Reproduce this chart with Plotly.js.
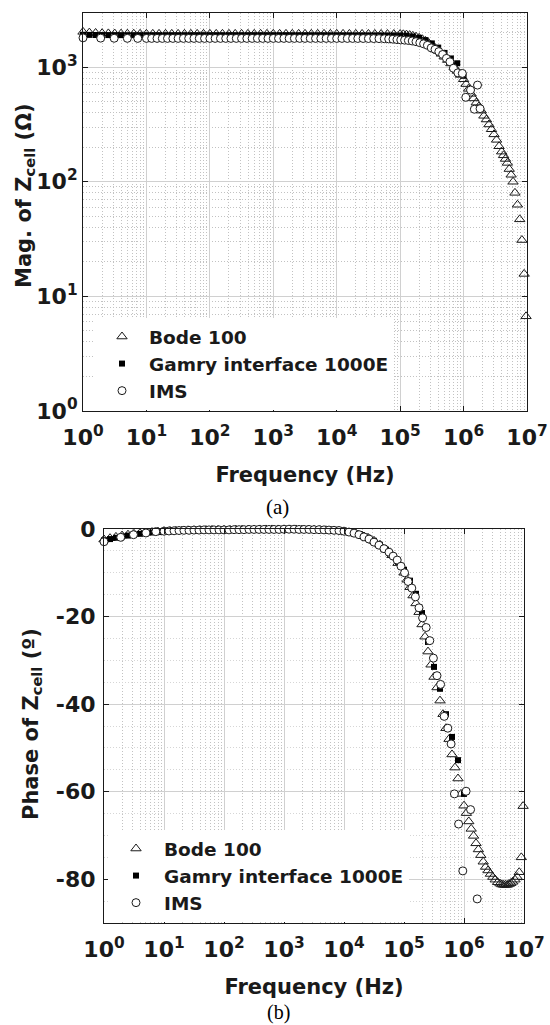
<!DOCTYPE html>
<html>
<head>
<meta charset="utf-8">
<script src="https://cdn.plot.ly/plotly-3.0.1.min.js"></script>
<style>
  html, body { margin: 0; padding: 0; background: #fff; }
  #chart { width: 550px; height: 1025px; }
</style>
</head>
<body>
<div id="chart"></div>
<script>
// ---- Bode 100 (triangles) ----
const bodeFreq = [
  1, 1.26, 1.58, 2, 2.51, 3.16, 3.98, 5.01, 6.31, 7.94,
  10, 12.6, 15.8, 20, 25.1, 31.6, 39.8, 50.1, 63.1, 79.4,
  100, 126, 158, 200, 251, 316, 398, 501, 631, 794,
  1000, 1259, 1585, 1995, 2512, 3162, 3981, 5012, 6310, 7943,
  10000, 12590, 15850, 19950, 25120, 31620, 39810, 50120, 63100, 79430,
  100000, 112200, 125900, 141300, 158500, 177800, 199500, 223900, 251200, 281800,
  316200, 354800, 398100, 446700, 501200, 562300, 631000, 707900, 794300, 891300,
  1000000, 1096000, 1202000, 1318000, 1445000, 1585000, 1738000, 1905000, 2089000, 2291000,
  2512000, 2754000, 3020000, 3311000, 3631000, 3981000, 4266000, 4571000, 4898000, 5248000,
  5623000, 6026000, 6457000, 7079000, 7674000, 8318000, 9016000, 9661000
];
const bodeMag = [
  2030, 2000, 1985, 1975, 1968, 1962, 1958, 1955, 1953, 1952,
  1950, 1950, 1950, 1950, 1950, 1950, 1950, 1950, 1950, 1950,
  1950, 1950, 1950, 1950, 1950, 1950, 1950, 1950, 1950, 1950,
  1950, 1950, 1950, 1950, 1950, 1950, 1950, 1950, 1950, 1950,
  1950, 1949, 1948, 1948, 1947, 1946, 1945, 1944, 1943, 1942,
  1941, 1932, 1919, 1901, 1875, 1841, 1799, 1750, 1690, 1622,
  1549, 1469, 1387, 1306, 1230, 1153, 1076, 1000, 927, 855,
  783, 711, 646, 585, 533, 490, 452, 417, 376, 349,
  316, 287, 259, 232, 204, 183, 170, 158, 146, 129,
  115, 100, 80, 63, 47, 31, 15.7, 6.7
];
const bodePhase = [
  -2.4, -2.1, -1.8, -1.5, -1.3, -1.1, -0.95, -0.8, -0.7, -0.6,
  -0.5, -0.45, -0.4, -0.35, -0.3, -0.3, -0.25, -0.25, -0.2, -0.2,
  -0.2, -0.2, -0.15, -0.15, -0.15, -0.15, -0.1, -0.1, -0.1, -0.1,
  -0.1, -0.1, -0.1, -0.15, -0.2, -0.2, -0.25, -0.3, -0.4, -0.5,
  -0.6, -0.8, -1.1, -1.5, -2.0, -2.7, -3.6, -4.7, -6.0, -7.8,
  -10.0, -11.6, -13.3, -15.2, -17.0, -19.0, -21.8, -24.6, -28.0, -31.0,
  -33.8, -36.2, -39.2, -42.3, -45.5, -48.0, -51.5, -54.5, -57.0, -60.5,
  -63.2, -64.9, -66.8, -68.5, -70.1, -71.8, -73.2, -74.5, -76.0, -77.2,
  -78.0, -78.8, -79.5, -80.1, -80.7, -81.0, -81.2, -81.3, -81.3, -81.3,
  -81.1, -80.9, -80.6, -80.1, -79.5, -78.4, -75.0, -63.3
];

// ---- Gamry interface 1000E (filled squares) ----
const gamryFreq = [
  1, 1.26, 1.58, 2, 2.51, 3.16, 3.98, 5.01, 6.31, 7.94,
  10, 12.6, 15.8, 20, 25.1, 31.6, 39.8, 50.1, 63.1, 79.4,
  100, 126, 158, 200, 251, 316, 398, 501, 631, 794,
  1000, 1259, 1585, 1995, 2512, 3162, 3981, 5012, 6310, 7943,
  10000, 12590, 15850, 19950, 25120, 31620, 39810, 50120, 63100, 79430,
  100000, 125900, 158500, 199500, 251200, 316200, 398100, 501200, 631000, 794300,
  1000000
];
const gamryMag = [
  1915, 1910, 1906, 1904, 1903, 1902, 1901, 1900, 1900, 1900,
  1900, 1900, 1900, 1900, 1900, 1900, 1900, 1900, 1900, 1900,
  1900, 1900, 1900, 1900, 1900, 1900, 1900, 1900, 1900, 1900,
  1900, 1900, 1900, 1899, 1899, 1899, 1898, 1898, 1898, 1897,
  1897, 1896, 1896, 1895, 1895, 1894, 1893, 1892, 1891, 1890,
  1888, 1880, 1850, 1800, 1720, 1610, 1480, 1330, 1190, 1080,
  840
];
const gamryPhase = [
  -2.6, -2.3, -2.0, -1.7, -1.5, -1.3, -1.1, -0.95, -0.8, -0.7,
  -0.6, -0.5, -0.45, -0.4, -0.35, -0.3, -0.3, -0.25, -0.25, -0.2,
  -0.2, -0.2, -0.15, -0.15, -0.15, -0.1, -0.1, -0.1, -0.1, -0.1,
  -0.1, -0.1, -0.1, -0.15, -0.15, -0.2, -0.25, -0.3, -0.35, -0.4,
  -0.5, -0.7, -1.0, -1.4, -2.0, -2.7, -3.6, -4.7, -6.0, -7.5,
  -9.3, -11.8, -14.8, -19.2, -25.8, -31.5, -36.5, -42.3, -47.5, -52.8,
  -60.5
];

// ---- IMS (open circles) ----
const imsFreq = [
  1, 1.9, 3.1, 5, 7.3,
  10, 12.1, 14.7, 17.8, 21.5, 26.1, 31.6, 38.3, 46.4, 56.2, 68.1, 82.5,
  100, 121, 147, 178, 215, 261, 316, 383, 464, 562, 681, 825,
  1000, 1210, 1470, 1780, 2150, 2610, 3160, 3830, 4640, 5620, 6810, 8250,
  10000, 12100, 14700, 17800, 21500, 26100, 31600, 38300, 46400, 56200, 66000, 77000,
  89100, 102300, 117500, 134900, 154900, 177800, 204200, 234400, 269200, 309000,
  354800, 407400, 467700, 537000, 609500, 691800, 812800, 955000, 1084000, 1288000,
  1479000, 1660000, 1820000
];
const imsMag = [
  1800, 1790, 1785, 1782, 1780,
  1780, 1780, 1780, 1780, 1780, 1780, 1780, 1780, 1780, 1780, 1780, 1780,
  1780, 1780, 1780, 1780, 1780, 1780, 1780, 1780, 1780, 1780, 1780, 1780,
  1780, 1780, 1780, 1780, 1780, 1780, 1780, 1780, 1780, 1780, 1780, 1780,
  1780, 1780, 1779, 1779, 1778, 1777, 1776, 1774, 1772, 1768, 1762, 1752,
  1738, 1726, 1718, 1706, 1690, 1667, 1633, 1596, 1549, 1472,
  1429, 1365, 1288, 1191, 1112, 977, 891, 881, 545, 631,
  429, 697, 434
];
const imsPhase = [
  -2.9, -1.9, -1.3, -0.9, -0.6,
  -0.5, -0.45, -0.4, -0.35, -0.3, -0.3, -0.25, -0.25, -0.2, -0.2, -0.2, -0.2,
  -0.2, -0.2, -0.15, -0.15, -0.15, -0.1, -0.1, -0.1, -0.1, -0.1, -0.1, -0.1,
  -0.05, -0.05, -0.05, -0.1, -0.1, -0.1, -0.15, -0.15, -0.2, -0.25, -0.3, -0.35,
  -0.5, -0.7, -0.95, -1.3, -1.8, -2.3, -3.0, -3.7, -4.5, -5.3, -6.2, -7.1,
  -8.5, -10.0, -12.0, -13.5, -15.5, -18.0, -20.3, -22.5, -25.5, -29.5,
  -33.5, -35.5, -42.8, -45.5, -49.1, -60.5, -67.4, -78.1, -59.9, -64.1,
  null, -84.5, null
];

// ---- axis labels ----
const freqTickVals = [1, 10, 100, 1000, 10000, 100000, 1000000, 10000000];
const freqTickText = ['10<sup>0</sup>', '10<sup>1</sup>', '10<sup>2</sup>', '10<sup>3</sup>',
                      '10<sup>4</sup>', '10<sup>5</sup>', '10<sup>6</sup>', '10<sup>7</sup>'];
const magTickVals = [1, 10, 100, 1000];
const magTickText = ['10<sup>0</sup>', '10<sup>1</sup>', '10<sup>2</sup>', '10<sup>3</sup>'];
const phaseTickVals = [-80, -60, -40, -20, 0];
const phaseTickText = ['-80', '-60', '-40', '-20', '0'];
const seriesNames = ['Bode 100', 'Gamry interface 1000E', 'IMS'];

// minor grid positions (2..9 within each decade)
function minorLogTicks(maxDecade) {
  const out = [];
  for (let d = 0; d <= maxDecade; d++) {
    for (let m = 2; m <= 9; m++) out.push(m * Math.pow(10, d));
  }
  return out;
}

const W = 550, H = 1025;
const px = v => v / W;          // horizontal pixel -> paper
const py = v => 1 - v / H;      // vertical pixel (from top) -> paper

const ink = '#1a1a1a';
const tickFont = { family: 'DejaVu Sans', size: 22, weight: 'bold', color: ink };
const titleFont = { family: 'DejaVu Sans', size: 21, weight: 'bold', color: ink };
const legendFont = { family: 'DejaVu Sans', size: 18.5, weight: 'bold', color: ink };

const markerStyles = [
  { symbol: 'triangle-up-open', size: 9, color: ink, line: { width: 1, color: ink } },
  { symbol: 'square', size: 6, color: '#000', line: { width: 0 } },
  { symbol: 'circle', size: 8, color: '#fff', line: { width: 1, color: ink } }
];

function series(i, x, y, xa, ya, legend) {
  return {
    type: 'scatter', mode: 'markers', name: seriesNames[i],
    x: x, y: y, xaxis: xa, yaxis: ya, legend: legend,
    marker: markerStyles[i], cliponaxis: false, hoverinfo: 'x+y'
  };
}

const traces = [
  series(0, bodeFreq, bodeMag, 'x', 'y', 'legend'),
  series(1, gamryFreq, gamryMag, 'x', 'y', 'legend'),
  series(2, imsFreq, imsMag, 'x', 'y', 'legend'),
  series(0, bodeFreq, bodePhase, 'x2', 'y2', 'legend2'),
  series(1, gamryFreq, gamryPhase, 'x2', 'y2', 'legend2'),
  series(2, imsFreq, imsPhase, 'x2', 'y2', 'legend2')
];

const gridMajor = '#d0d0d0';
const gridMinor = '#c2c2c2';

function freqAxis(domain, anchor) {
  return {
    type: 'log', domain: domain, anchor: anchor, range: [0, 7],
    tickmode: 'array', tickvals: freqTickVals, ticktext: freqTickText,
    tickfont: tickFont, ticks: 'inside', ticklen: 5, tickcolor: ink,
    ticklabelstandoff: 7,
    showline: true, linecolor: ink, linewidth: 1, mirror: 'ticks',
    showgrid: true, gridcolor: gridMajor, gridwidth: 1,
    minor: { tickmode: 'array', tickvals: minorLogTicks(6), showgrid: true,
             gridcolor: gridMinor, griddash: '1px,2px', gridwidth: 1, ticks: '' },
    zeroline: false,
    title: { text: 'Frequency (Hz)', font: titleFont, standoff: 17 }
  };
}

const layout = {
  width: W, height: H,
  margin: { l: 0, r: 0, t: 0, b: 0 },
  paper_bgcolor: '#fff', plot_bgcolor: '#fff',
  showlegend: true,
  xaxis: freqAxis([px(83), px(527)], 'y'),
  yaxis: {
    type: 'log', domain: [py(411), py(13)], anchor: 'x', range: [0, 3.472],
    tickmode: 'array', tickvals: magTickVals, ticktext: magTickText,
    tickfont: tickFont, ticks: 'inside', ticklen: 5, tickcolor: ink,
    showline: true, linecolor: ink, linewidth: 1, mirror: 'ticks',
    showgrid: true, gridcolor: gridMajor, gridwidth: 1,
    minor: { tickmode: 'array', tickvals: minorLogTicks(3), showgrid: true,
             gridcolor: gridMinor, griddash: '1px,2px', gridwidth: 1, ticks: '' },
    zeroline: false
  },
  xaxis2: freqAxis([px(104), px(524)], 'y2'),
  yaxis2: {
    domain: [py(923), py(529)], anchor: 'x2', range: [-90, 0],
    tickmode: 'array', tickvals: phaseTickVals, ticktext: phaseTickText,
    tickfont: tickFont, ticks: 'inside', ticklen: 5, tickcolor: ink,
    ticklabelstandoff: 3,
    showline: true, linecolor: ink, linewidth: 1, mirror: 'ticks',
    showgrid: true, gridcolor: gridMajor, gridwidth: 1,
    minor: { tickmode: 'linear', tick0: 0, dtick: 5, showgrid: true,
             gridcolor: '#d6d6d6', griddash: '1px,2px', gridwidth: 1, ticks: '' },
    zeroline: false
  },
  legend: {
    x: px(95), y: py(318), xanchor: 'left', yanchor: 'top', itemwidth: 44,
    bgcolor: '#fff', borderwidth: 0, font: legendFont, tracegroupgap: 0
  },
  legend2: {
    x: px(108), y: py(830), xanchor: 'left', yanchor: 'top', itemwidth: 46,
    bgcolor: '#fff', borderwidth: 0, font: legendFont, tracegroupgap: 0
  },
  annotations: [
    { text: 'Mag. of Z<sub>cell</sub> (Ω)', textangle: -90, xref: 'paper', yref: 'paper',
      x: px(25), y: py(196), xanchor: 'center', yanchor: 'middle', showarrow: false, font: titleFont },
    { text: 'Phase of Z<sub>cell</sub> (º)', textangle: -90, xref: 'paper', yref: 'paper',
      x: px(32), y: py(724), xanchor: 'center', yanchor: 'middle', showarrow: false, font: titleFont },
    { text: '(a)', xref: 'paper', yref: 'paper', x: px(277), y: py(507),
      xanchor: 'center', yanchor: 'middle', showarrow: false,
      font: { family: 'Liberation Serif', size: 21, color: '#000' } },
    { text: '(b)', xref: 'paper', yref: 'paper', x: px(278), y: py(1012),
      xanchor: 'center', yanchor: 'middle', showarrow: false,
      font: { family: 'Liberation Serif', size: 20, color: '#000' } }
  ]
};

Plotly.newPlot('chart', traces, layout, { staticPlot: true, displayModeBar: false });
</script>
</body>
</html>
